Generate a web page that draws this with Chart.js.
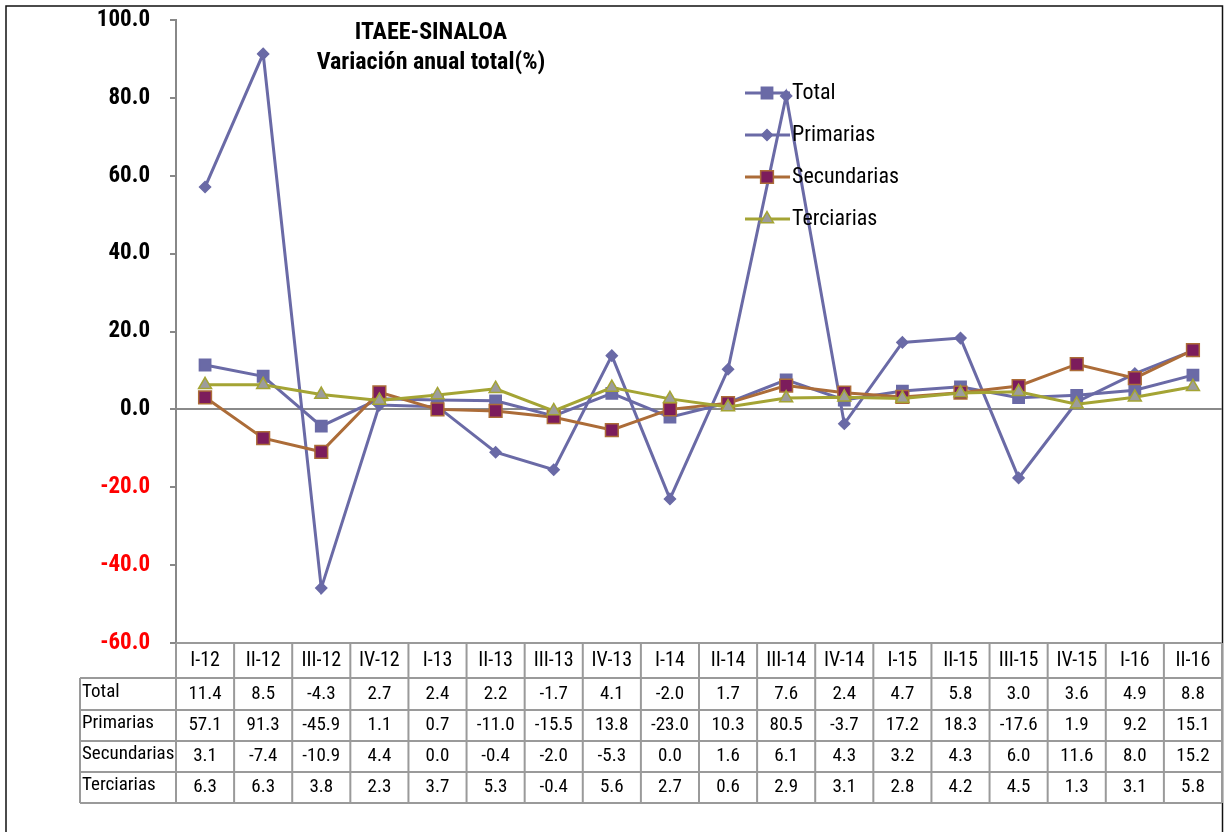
<!DOCTYPE html>
<html>
<head>
<meta charset="utf-8">
<script src="https://cdn.jsdelivr.net/npm/chart.js@4"></script>
<style>
  html, body { margin: 0; padding: 0; background: #fff; overflow: hidden; }
  #wrap { width: 1225px; height: 832px; position: relative; }
</style>
</head>
<body>
<div id="wrap"><canvas id="itaeeChart"></canvas></div>
<script>
const categories = ['I-12', 'II-12', 'III-12', 'IV-12', 'I-13', 'II-13', 'III-13', 'IV-13', 'I-14', 'II-14', 'III-14', 'IV-14', 'I-15', 'II-15', 'III-15', 'IV-15', 'I-16', 'II-16'];
const total = [11.4, 8.5, -4.3, 2.7, 2.4, 2.2, -1.7, 4.1, -2.0, 1.7, 7.6, 2.4, 4.7, 5.8, 3.0, 3.6, 4.9, 8.8];
const primarias = [57.1, 91.3, -45.9, 1.1, 0.7, -11.0, -15.5, 13.8, -23.0, 10.3, 80.5, -3.7, 17.2, 18.3, -17.6, 1.9, 9.2, 15.1];
const secundarias = [3.1, -7.4, -10.9, 4.4, 0.0, -0.4, -2.0, -5.3, 0.0, 1.6, 6.1, 4.3, 3.2, 4.3, 6.0, 11.6, 8.0, 15.2];
const terciarias = [6.3, 6.3, 3.8, 2.3, 3.7, 5.3, -0.4, 5.6, 2.7, 0.6, 2.9, 3.1, 2.8, 4.2, 4.5, 1.3, 3.1, 5.8];
const seriesNames = ['Total', 'Primarias', 'Secundarias', 'Terciarias'];
const titleLines = ['ITAEE-SINALOA', 'Variación anual total(%)'];

const FONT = '"Roboto Condensed", "Open Sans Condensed", sans-serif';
const GRID = '#9a9a9a';

// frame, title, inside legend and the data table under the plot
const extrasPlugin = {
    id: 'extras',
    beforeDraw(chart) {
        const ctx = chart.ctx;
        ctx.save();
        ctx.fillStyle = '#fff';
        ctx.fillRect(0, 0, chart.width, chart.height);
        ctx.strokeStyle = '#111';
        ctx.lineWidth = 1.5;
        ctx.strokeRect(6, 6, 1216.5, 900);
        ctx.restore();
    },
    afterDraw(chart) {
        const ctx = chart.ctx;
        const area = chart.chartArea;
        const xs = chart.scales.x;
        ctx.save();

        // title
        ctx.fillStyle = '#000';
        ctx.textAlign = 'center';
        ctx.textBaseline = 'middle';
        ctx.font = 'bold 24px ' + FONT;
        ctx.fillText(titleLines[0], 431, 33);
        ctx.fillText(titleLines[1], 431, 63);

        // legend
        const legY = [93, 135, 177, 219];
        chart.data.datasets.forEach((ds, i) => {
            const y = legY[i];
            ctx.strokeStyle = ds.borderColor;
            ctx.lineWidth = ds.borderWidth;
            ctx.beginPath();
            ctx.moveTo(745, y);
            ctx.lineTo(790, y);
            ctx.stroke();
            ctx.fillStyle = ds.pointBackgroundColor;
            ctx.strokeStyle = ds.pointBorderColor;
            ctx.lineWidth = ds.pointBorderWidth;
            Chart.helpers.drawPoint(ctx, { pointStyle: ds.pointStyle, radius: ds.pointRadius, rotation: 0, borderWidth: ds.pointBorderWidth }, 767, y);
            ctx.fillStyle = '#000';
            ctx.textAlign = 'left';
            ctx.font = '22px ' + FONT;
            ctx.fillText(ds.label, 792, y);
        });

        // data table
        const n = categories.length;
        const colW = (area.right - area.left) / n;
        const top = area.bottom;
        const rowTops = [top, top + 35, top + 67, top + 98, top + 129, top + 160];
        const keyLeft = 80;

        ctx.strokeStyle = GRID;
        ctx.lineWidth = 2;
        ctx.beginPath();
        ctx.moveTo(area.left, rowTops[0]);
        ctx.lineTo(area.right, rowTops[0]);
        for (let r = 1; r < rowTops.length; r++) {
            ctx.moveTo(keyLeft, rowTops[r]);
            ctx.lineTo(area.right, rowTops[r]);
        }
        ctx.moveTo(keyLeft, rowTops[1]);
        ctx.lineTo(keyLeft, rowTops[5]);
        for (let c = 0; c <= n; c++) {
            const x = area.left + c * colW;
            ctx.moveTo(x, rowTops[0]);
            ctx.lineTo(x, rowTops[5]);
        }
        ctx.stroke();

        ctx.fillStyle = '#000';
        ctx.textBaseline = 'middle';
        ctx.font = '20px ' + FONT;
        ctx.textAlign = 'center';
        categories.forEach((cat, i) => {
            ctx.fillText(cat, xs.getPixelForValue(i), (rowTops[0] + rowTops[1]) / 2);
        });
        ctx.font = '19px ' + FONT;
        chart.data.datasets.forEach((ds, r) => {
            const yMid = (rowTops[r + 1] + rowTops[r + 2]) / 2;
            ctx.textAlign = 'left';
            ctx.fillText(ds.label, keyLeft + 2, yMid - 2);
            ctx.textAlign = 'center';
            ds.data.forEach((v, i) => {
                ctx.fillText(v.toFixed(1), xs.getPixelForValue(i), yMid);
            });
        });
        ctx.restore();
    }
};

const makeSeries = (label, data, line, fill, border, style, radius, order) => ({
    label,
    data,
    borderColor: line,
    borderWidth: 3,
    pointStyle: style,
    pointRadius: radius,
    pointHoverRadius: radius,
    pointBackgroundColor: fill,
    pointBorderColor: border,
    pointBorderWidth: 1.5,
    tension: 0,
    fill: false,
    order
});

new Chart(document.getElementById('itaeeChart'), {
    type: 'line',
    data: {
        labels: categories,
        datasets: [
            makeSeries(seriesNames[0], total, '#6A6AA6', '#6A6AA6', '#6A6AA6', 'rect', 8, 3),
            makeSeries(seriesNames[1], primarias, '#6A6AA6', '#6A6AA6', '#6A6AA6', 'rectRot', 5.5, 2),
            makeSeries(seriesNames[2], secundarias, '#AC6C38', '#7C1C5C', '#AC6C38', 'rect', 9, 1),
            makeSeries(seriesNames[3], terciarias, '#A4A434', '#9C9C9C', '#A4A434', 'triangle', 7.5, 0)
        ]
    },
    options: {
        responsive: true,
        maintainAspectRatio: false,
        animation: false,
        layout: { autoPadding: false, padding: { left: 0, right: 3, top: 20, bottom: 189 } },
        plugins: {
            legend: { display: false },
            title: { display: false },
            tooltip: { enabled: false }
        },
        scales: {
            x: {
                display: false,
                offset: true
            },
            y: {
                min: -60,
                max: 100,
                afterFit: (scale) => {
                    scale.width = 176;
                    scale.paddingTop = 0;
                    scale.paddingBottom = 0;
                },
                border: { display: true, color: '#888', width: 2 },
                grid: {
                    drawTicks: true,
                    tickLength: 6,
                    tickColor: '#888',
                    tickWidth: 2,
                    lineWidth: 2,
                    color: (c) => (c.tick && c.tick.value === 0 ? '#8a8a8a' : 'rgba(0,0,0,0)')
                },
                ticks: {
                    stepSize: 20,
                    padding: 20,
                    color: (c) => (c.tick && c.tick.value < 0 ? '#FF0000' : '#000'),
                    font: { family: FONT, size: 23, weight: 'bold' },
                    callback: (v) => Number(v).toFixed(1)
                }
            }
        }
    },
    plugins: [extrasPlugin]
});
</script>
</body>
</html>
